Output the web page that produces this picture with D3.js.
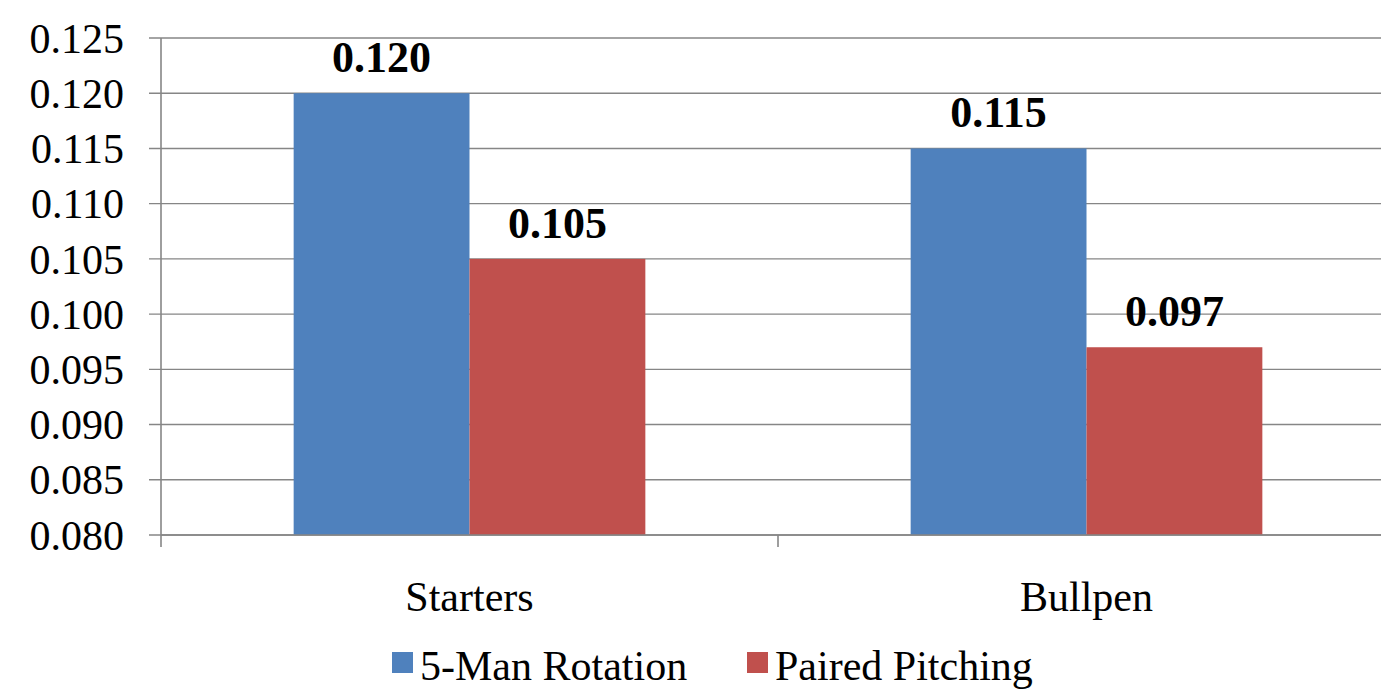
<!DOCTYPE html>
<html><head><meta charset="utf-8">
<script src="https://cdn.jsdelivr.net/npm/d3@7"></script>
<style>body{margin:0;background:#fff;overflow:hidden}svg{display:block}</style>
</head><body><svg id="c" width="1381" height="694"></svg>
<script>
const categories = ["Starters", "Bullpen"];
const seriesNames = ["5-Man Rotation", "Paired Pitching"];
const fiveMan = [0.120, 0.115];
const paired = [0.105, 0.097];
const colors = ["#4F81BD", "#C0504D"];
const yTicks = [0.080,0.085,0.090,0.095,0.100,0.105,0.110,0.115,0.120,0.125];

const FONT = "'Liberation Serif', 'Times New Roman', Times, serif";
const svg = d3.select("#c").style("font-family", FONT);
const L = 161, R = 1395, T = 38, B = 535;
const y = d3.scaleLinear().domain([0.080, 0.125]).range([B, T]);
const x0 = d3.scaleBand().domain(categories).range([L, R]).paddingInner(0.43).paddingOuter(0.215);
const x1 = d3.scaleBand().domain(seriesNames).range([0, x0.bandwidth()]);
const grid = "#868686";

svg.append("g").selectAll("line").data(yTicks).join("line")
  .attr("x1", L - 12).attr("x2", R).attr("y1", d => y(d)).attr("y2", d => y(d))
  .attr("stroke", grid).attr("stroke-width", 1.4);
svg.append("g").selectAll("text").data(yTicks).join("text")
  .attr("x", 124).attr("y", d => y(d)).attr("dy", "0.35em")
  .attr("text-anchor", "end").attr("font-family", FONT).attr("font-size", 42)
  .text(d => d3.format(".3f")(d));

const data = categories.map((c, i) => ({cat: c, vals: [fiveMan[i], paired[i]]}));
const groups = svg.append("g").selectAll("g").data(data).join("g")
  .attr("transform", d => `translate(${x0(d.cat)},0)`);
groups.selectAll("rect").data(d => d.vals.map((v, j) => ({v, s: seriesNames[j], j}))).join("rect")
  .attr("x", d => x1(d.s)).attr("width", x1.bandwidth())
  .attr("y", d => y(d.v)).attr("height", d => B - y(d.v))
  .attr("fill", d => colors[d.j]);
groups.selectAll("text").data(d => d.vals.map((v, j) => ({v, s: seriesNames[j], j}))).join("text")
  .attr("x", d => x1(d.s) + x1.bandwidth() / 2).attr("y", d => y(d.v) - 21)
  .attr("text-anchor", "middle").attr("font-family", FONT).attr("font-size", 44).attr("font-weight", "bold")
  .text(d => d3.format(".3f")(d.v));

svg.append("line").attr("x1", L).attr("x2", L).attr("y1", T).attr("y2", B + 12).attr("stroke", grid).attr("stroke-width", 1.6);
svg.append("line").attr("x1", L).attr("x2", R).attr("y1", B).attr("y2", B).attr("stroke", grid).attr("stroke-width", 1.6);
const bounds = [x0.step() + L];
svg.append("g").selectAll("line").data(bounds).join("line")
  .attr("x1", d => d).attr("x2", d => d).attr("y1", B).attr("y2", B + 12)
  .attr("stroke", grid).attr("stroke-width", 1.6);

svg.append("g").selectAll("text").data(categories).join("text")
  .attr("x", d => x0(d) + x0.bandwidth() / 2).attr("y", 611)
  .attr("text-anchor", "middle").attr("font-family", FONT).attr("font-size", 42).text(d => d);

const legendX = [392, 747];
const lg = svg.append("g").selectAll("g").data(seriesNames).join("g")
  .attr("transform", (d, i) => `translate(${legendX[i]},652)`);
lg.append("rect").attr("width", 21).attr("height", 21).attr("fill", (d, i) => colors[i]);
lg.append("text").attr("x", 28).attr("y", 28).attr("font-family", FONT).attr("font-size", 42).text(d => d);
</script></body></html>
